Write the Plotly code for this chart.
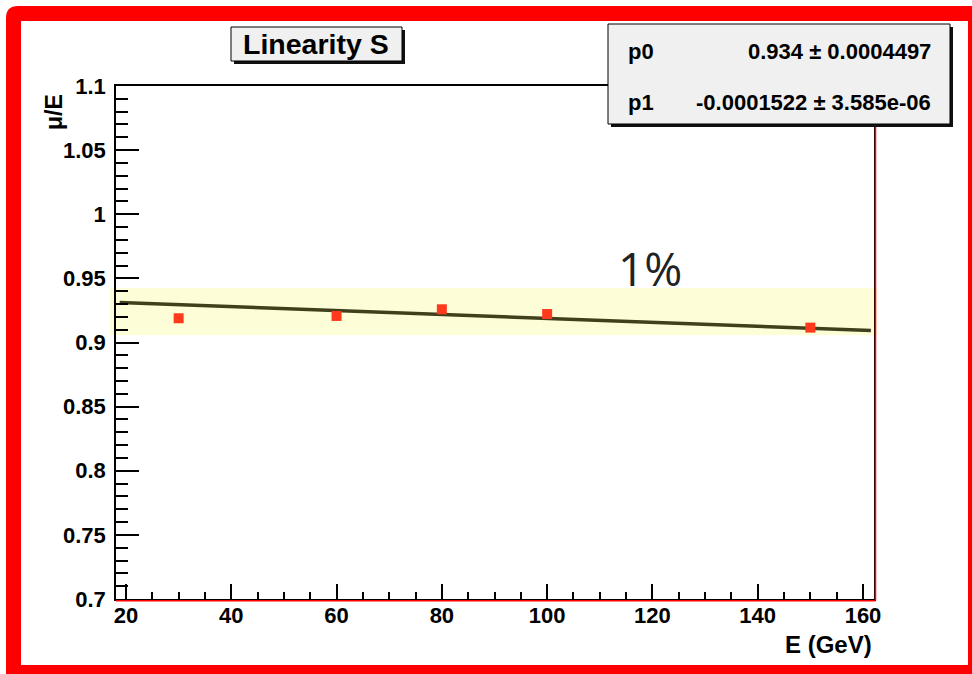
import plotly.graph_objects as go

# ---------------- data ----------------
energy = [30, 60, 80, 100, 150]
mu_over_e = [0.9189, 0.9207, 0.9259, 0.9222, 0.9116]

p0 = 0.934
p1 = -0.0001522
fit_x = [18.8, 161.5]
fit_y = [p0 + p1 * x for x in fit_x]

band_lo = 0.9056
band_hi = 0.9425

x_tickvals = [20, 40, 60, 80, 100, 120, 140, 160]
x_ticktext = ["20", "40", "60", "80", "100", "120", "140", "160"]
y_tickvals = [0.7, 0.75, 0.8, 0.85, 0.9, 0.95, 1.0, 1.05, 1.1]
y_ticktext = ["0.7", "0.75", "0.8", "0.85", "0.9", "0.95", "1", "1.05", "1.1"]

stat_names = ["p0", "p1"]
stat_values = ["0.934 \u00b1 0.0004497", "-0.0001522 \u00b1 3.585e-06"]

title_text = "Linearity S"
band_label = "1%"

# ---------------- layout geometry (pixels) ----------------
W, H = 972, 674
L, R, T, B = 116, 874, 86, 599


def px(x):
    return (x - L) / (R - L)


def py(y):
    return (B - y) / (B - T)


FONT = "Liberation Sans, Arial, Helvetica, sans-serif"

fig = go.Figure()

fig.add_trace(go.Scatter(
    x=fit_x, y=fit_y, mode="lines",
    line=dict(color="#40401c", width=3.5),
    hoverinfo="skip", showlegend=False,
))
fig.add_trace(go.Scatter(
    x=energy, y=mu_over_e, mode="markers",
    marker=dict(symbol="square", size=10, color="#ff3a1c", line=dict(width=0)),
    showlegend=False,
))

shapes = []
# yellow band
shapes.append(dict(type="rect", xref="paper", yref="y",
                   x0=px(110), x1=px(877), y0=band_lo, y1=band_hi,
                   fillcolor="#fdfdd8", line=dict(width=0), layer="below"))
# red frame lines at right and bottom of plot frame
shapes.append(dict(type="line", xref="paper", yref="paper",
                   x0=px(875.5), x1=px(875.5), y0=py(600), y1=1,
                   line=dict(color="#ff0000", width=1.5)))
shapes.append(dict(type="line", xref="paper", yref="paper",
                   x0=0, x1=px(875.5), y0=py(600.8), y1=py(600.8),
                   line=dict(color="#ff0000", width=1.5)))


def rect_px(x0, y0, x1, y1, **kw):
    d = dict(type="rect", xref="paper", yref="paper",
             x0=px(x0), x1=px(x1), y0=py(y1), y1=py(y0))
    d.update(kw)
    return d


# title box with shadow
shapes.append(rect_px(234, 30, 405, 64, fillcolor="#111111", line=dict(width=0)))
shapes.append(rect_px(231, 27, 402, 61, fillcolor="#f0f0f0", line=dict(color="black", width=1)))
# stats box with shadow
shapes.append(rect_px(611, 27, 953, 127, fillcolor="#111111", line=dict(width=0)))
shapes.append(rect_px(608, 24, 950, 124, fillcolor="#f0f0f0", line=dict(color="black", width=1)))


# red outer frame (rounded top-left), evenodd fill
def P(x, y):
    return f"{px(x):.5f},{py(y):.5f}"


outer = (f"M {P(6, 18)} Q {P(6, 6)} {P(18, 6)} L {P(990, 6)} L {P(990, 690)} "
         f"L {P(6, 690)} Z")
inner = f"M {P(21, 21)} L {P(968, 21)} L {P(968, 665)} L {P(21, 665)} Z"
shapes.append(dict(type="path", xref="paper", yref="paper",
                   path=outer + " " + inner, fillcolor="#ff0000",
                   fillrule="evenodd", line=dict(width=0)))

annotations = []
annotations.append(dict(xref="paper", yref="paper", x=px(316), y=py(44),
                        text=title_text, showarrow=False,
                        xanchor="center", yanchor="middle",
                        font=dict(family=FONT, size=28.5, color="black", weight="bold")))
stat_rows_y = [51, 102]
for name, val, yy in zip(stat_names, stat_values, stat_rows_y):
    annotations.append(dict(xref="paper", yref="paper", x=px(626), y=py(yy),
                            text=name, showarrow=False, xanchor="left", yanchor="middle",
                            font=dict(family=FONT, size=22, color="black", weight="bold")))
    annotations.append(dict(xref="paper", yref="paper", x=px(933), y=py(yy),
                            text=val, showarrow=False, xanchor="right", yanchor="middle",
                            font=dict(family=FONT, size=22, color="black", weight="bold")))
annotations.append(dict(xref="paper", yref="paper", x=px(650), y=py(268),
                        text=band_label, showarrow=False, xanchor="center", yanchor="middle",
                        font=dict(family="Open Sans", size=46, color="#222222")))
annotations.append(dict(xref="paper", yref="paper", x=px(54), y=py(112),
                        text="\u03bc/E", showarrow=False, textangle=-90,
                        xanchor="center", yanchor="middle",
                        font=dict(family=FONT, size=23, color="black", weight="bold")))
annotations.append(dict(xref="paper", yref="paper", x=px(874), y=py(644),
                        text="E (GeV)", showarrow=False, xanchor="right", yanchor="middle",
                        font=dict(family=FONT, size=24, color="black", weight="bold")))

fig.update_layout(
    width=W, height=H, autosize=False,
    margin=dict(l=L, r=W - R, t=T, b=H - B, pad=0),
    paper_bgcolor="white", plot_bgcolor="white",
    shapes=shapes, annotations=annotations,
    showlegend=False,
)
fig.update_xaxes(
    range=[18.10, 162.09], showgrid=False, zeroline=False,
    showline=True, linecolor="black", linewidth=1.5, mirror=True,
    ticks="inside", ticklen=15, tickwidth=1.5, tickcolor="black",
    tickvals=x_tickvals, ticktext=x_ticktext,
    tickfont=dict(family=FONT, size=22, color="black", weight="bold"),
    ticklabelstandoff=-4,
    minor=dict(ticks="inside", ticklen=7, tickwidth=1.5, tickcolor="black", dtick=5, tick0=0, showgrid=False),
)
fig.update_yaxes(
    range=[0.7, 1.1], showgrid=False, zeroline=False,
    showline=True, linecolor="black", linewidth=1.5, mirror=True,
    ticks="inside", ticklen=23, tickwidth=1.5, tickcolor="black",
    tickvals=y_tickvals, ticktext=y_ticktext,
    tickfont=dict(family=FONT, size=22, color="black", weight="bold"),
    ticklabelstandoff=4,
    minor=dict(ticks="inside", ticklen=12, tickwidth=1.5, tickcolor="black", dtick=0.01, tick0=0, showgrid=False),
)

fig.write_html("out.html")
